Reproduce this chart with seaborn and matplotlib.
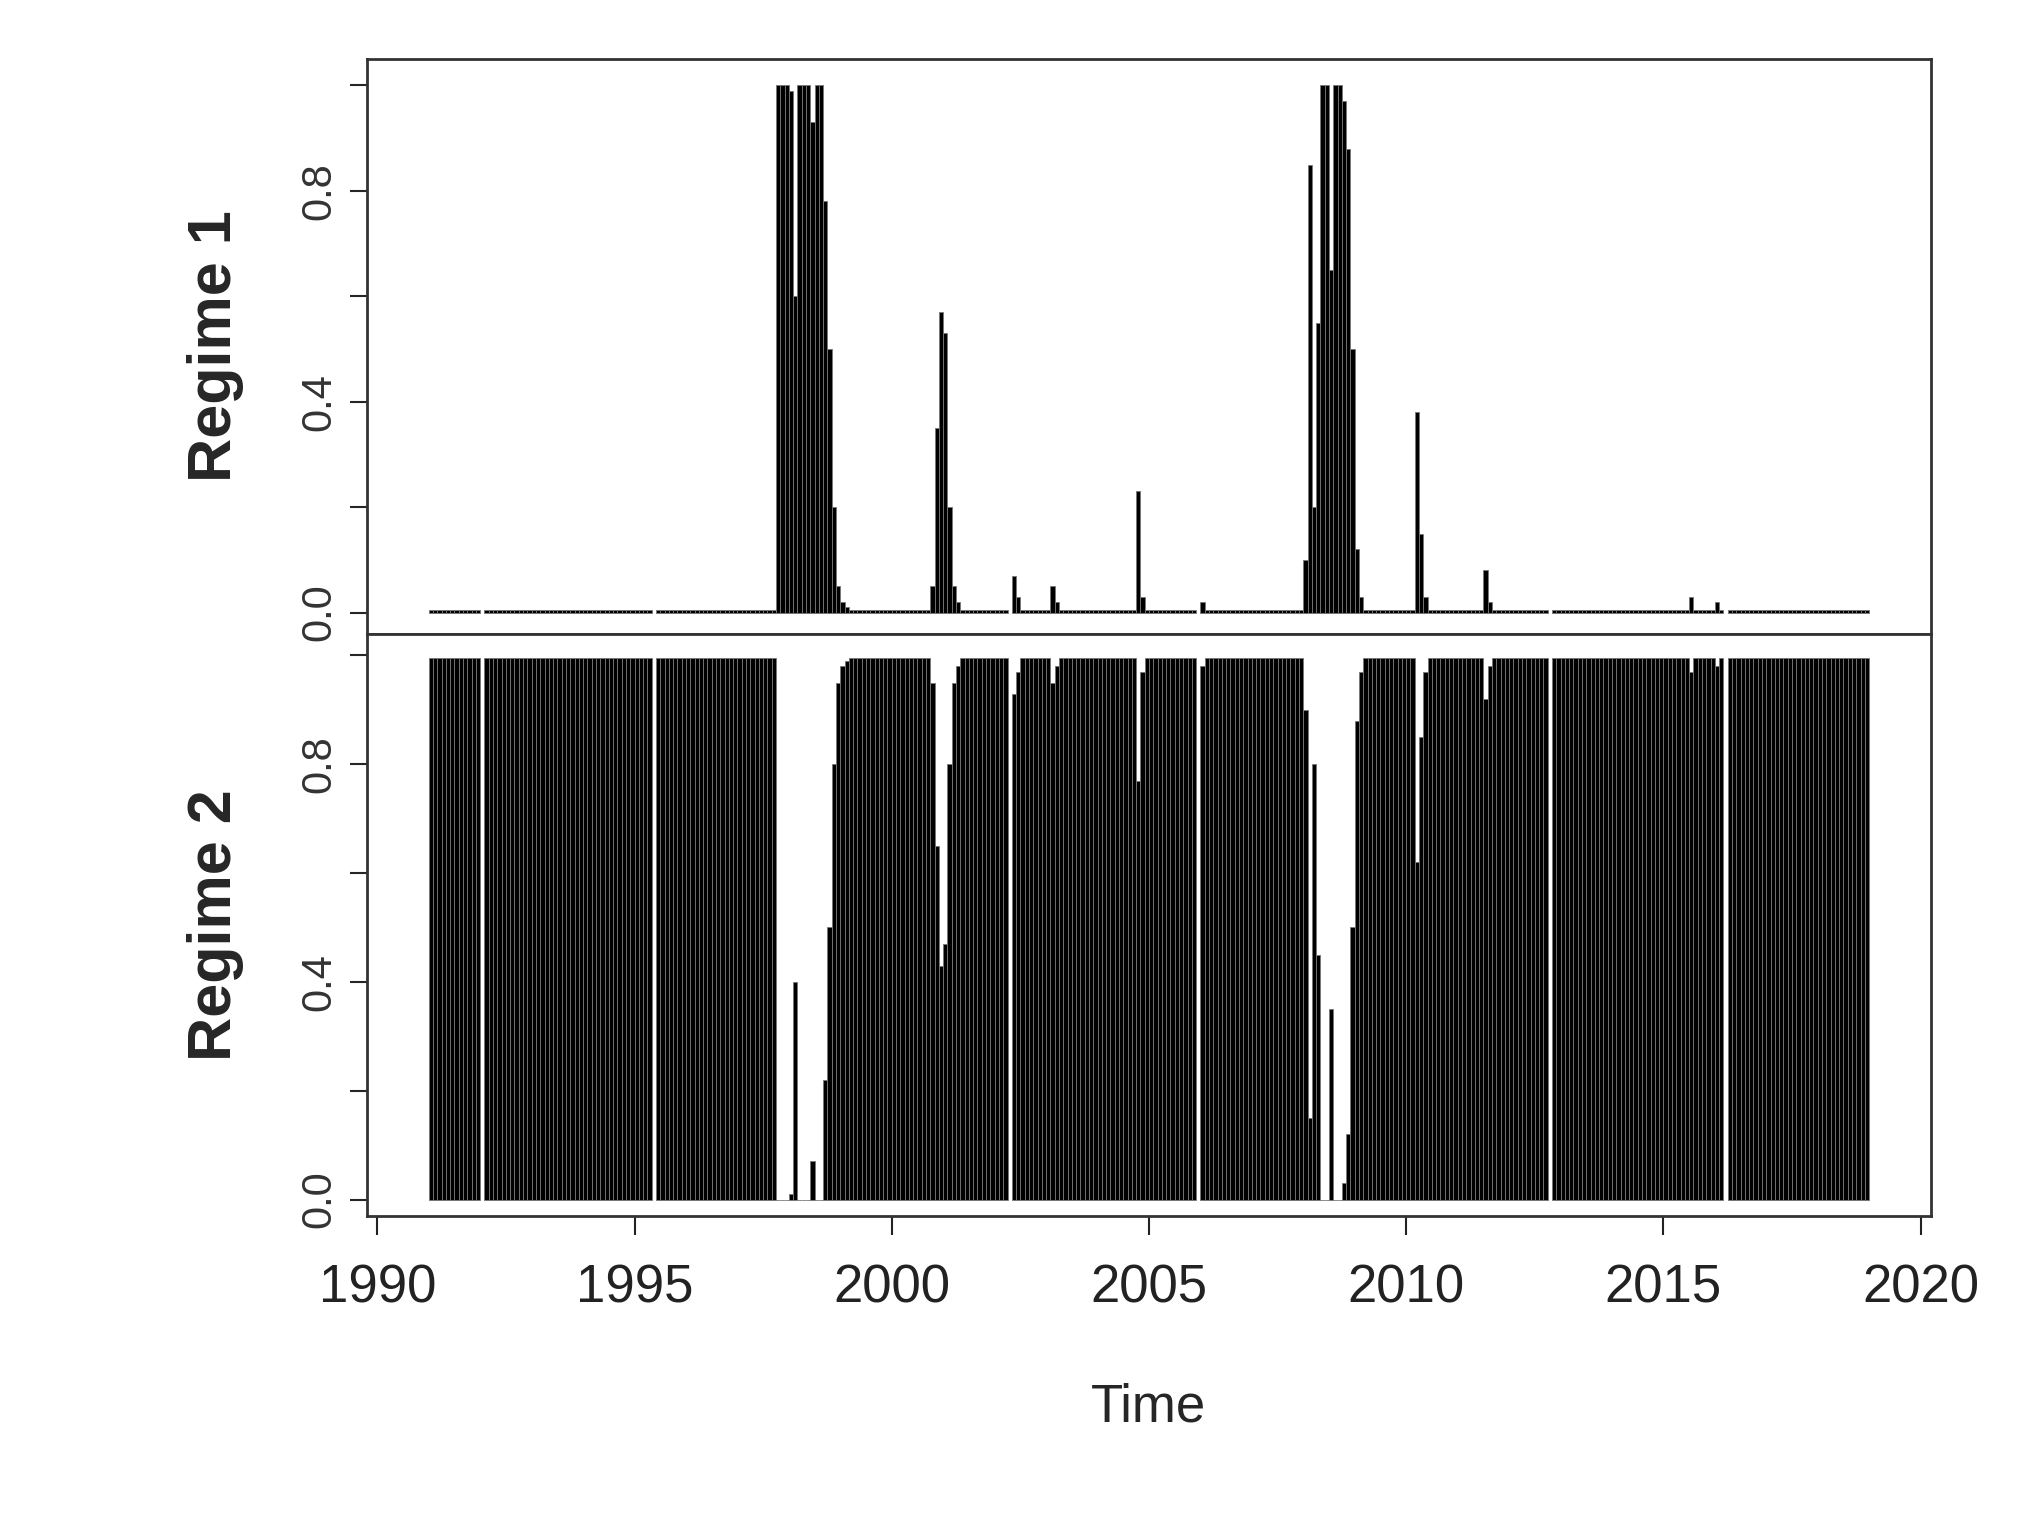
import matplotlib
matplotlib.use("Agg")
import matplotlib.pyplot as plt
import numpy as np
import seaborn as sns

sns.set_style("white")
plt.rcParams['font.family'] = ['Liberation Sans', 'DejaVu Sans']

# monthly grid, Jan 1991 .. Dec 2018
n_months = 336
start_year = 1991

# regime-1 smoothed probabilities (non-negligible months only)
spike_months = [81, 82, 83, 84, 85, 86, 87, 88, 89, 90, 91, 92, 93, 94, 95, 96, 97,
                117, 118, 119, 120, 121, 122, 123,
                136, 137, 145, 146, 165, 166, 180,
                204, 205, 206, 207, 208, 209, 210, 211, 212, 213, 214, 215, 216, 217,
                230, 231, 232, 246, 247, 294, 300]
spike_vals = [1.0, 1.0, 1.0, 0.99, 0.6, 1.0, 1.0, 1.0, 0.93, 1.0, 1.0, 0.78, 0.5, 0.2, 0.05, 0.02, 0.01,
              0.05, 0.35, 0.57, 0.53, 0.2, 0.05, 0.02,
              0.07, 0.03, 0.05, 0.02, 0.23, 0.03, 0.02,
              0.1, 0.85, 0.2, 0.55, 1.0, 1.0, 0.65, 1.0, 1.0, 0.97, 0.88, 0.5, 0.12, 0.03,
              0.38, 0.15, 0.03, 0.08, 0.02, 0.03, 0.02]
baseline = 0.004
# months missing from the series (white gaps)
gap_months = [12, 52, 135, 179, 261, 302]

t = start_year + np.arange(n_months) / 12
r1 = np.full(n_months, baseline)
r1[spike_months] = spike_vals
r2 = 1 - r1
r1[gap_months] = np.nan
r2[gap_months] = np.nan

fig = plt.figure(figsize=(20.39, 15.16), dpi=100)
ax1 = fig.add_axes([0.18, 0.582, 0.767, 0.379])
ax2 = fig.add_axes([0.18, 0.198, 0.767, 0.384], sharex=ax1)

for ax, vals, lab, lim in [(ax1, r1, "Regime 1", (-0.04, 1.05)),
                           (ax2, r2, "Regime 2", (-0.03, 1.04))]:
    ax.bar(t, vals, width=1/12, align="edge", color="black",
           edgecolor="#777777", linewidth=0.6)
    ax.set_ylim(*lim)
    ax.set_yticks([0, 0.2, 0.4, 0.6, 0.8, 1.0])
    ax.set_yticklabels(["0.0", "", "0.4", "", "0.8", ""], rotation=90,
                       va="center", fontsize=30, color="#333333")
    ax.tick_params(axis="y", length=12, width=1.5, left=True, pad=8)
    ax.set_ylabel(lab, fontsize=44, fontweight="bold", labelpad=40)
    for s in ax.spines.values():
        s.set_color("#333333")
        s.set_linewidth(2)

ax1.tick_params(axis="x", bottom=False, labelbottom=False)
ax2.set_xlim(1989.8, 2020.2)
ax2.set_xticks(np.arange(1990, 2021, 5))
ax2.tick_params(axis="x", labelsize=38, length=14, width=1.5, bottom=True, pad=20,
                colors="#222222")
ax2.set_xlabel("Time", fontsize=38, labelpad=50)

fig.savefig("out.png", dpi=100)
